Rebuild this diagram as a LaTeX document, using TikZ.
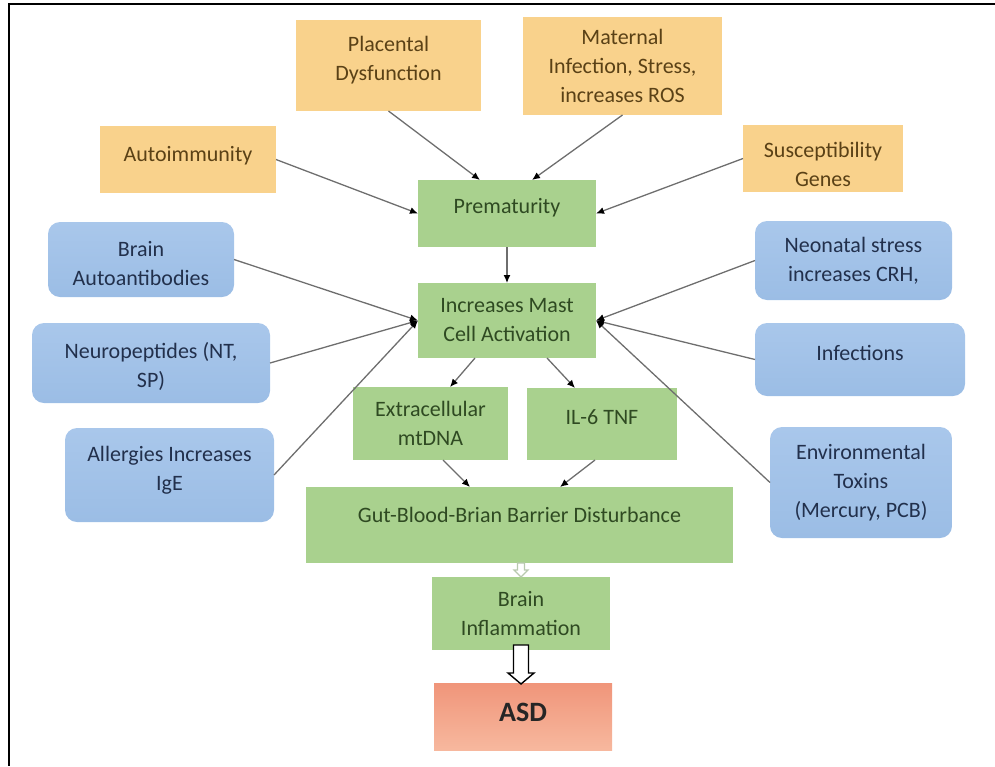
\documentclass[tikz,border=0pt]{standalone}
\usepackage{fontspec}
\setmainfont{Carlito}
\usetikzlibrary{arrows.meta,calc}
\definecolor{orfill}{HTML}{F9D28C}
\definecolor{ortext}{HTML}{5A4116}
\definecolor{grfill}{HTML}{A9D18E}
\definecolor{grtext}{HTML}{2F4A22}
\definecolor{bltop}{HTML}{A9C7EB}
\definecolor{blbot}{HTML}{9BBDE5}
\definecolor{bltext}{HTML}{22304C}
\definecolor{asdtop}{HTML}{F0957A}
\definecolor{asdbot}{HTML}{F7B89E}
\definecolor{lncol}{HTML}{6E6E6E}
\definecolor{smallar}{HTML}{B8C9AE}
\begin{document}
\begin{tikzpicture}[x=1pt,y=-1pt,
  base/.style={inner sep=0pt,outer sep=0pt,draw=none},
  obox/.style={base,fill=orfill},
  gbox/.style={base,fill=grfill},
  bbox/.style={base,rounded corners=12pt,top color=bltop,bottom color=blbot},
  abox/.style={base,top color=asdtop,bottom color=asdbot},
  txt/.style={align=center,inner sep=0pt,font=\fontsize{22}{29}\selectfont},
  otxt/.style={txt,text=ortext},
  gtxt/.style={txt,text=grtext},
  btxt/.style={txt,text=bltext},
  atxt/.style={align=center,inner sep=0pt,text=black!85,font=\fontsize{28}{32}\selectfont\bfseries},
  arr/.style={draw=lncol,line width=1.3pt,-{Latex[length=8pt,width=7pt,fill=black,color=black]}},
  hollowbig/.style={draw=black,fill=white,line width=1.4pt,line join=miter},
  hollowsmall/.style={draw=smallar,fill=white,line width=1.2pt,line join=miter}
]
\useasboundingbox (0,0) rectangle (995,766);
\draw[line width=2.2pt] (995,4) -- (9,4) -- (9,766);

% orange boxes
\node[obox,minimum width=185pt,minimum height=91pt,label={[otxt,yshift=5pt]center:{Placental\\Dysfunction}}] (pla) at (388.5,65.5) {};
\node[obox,minimum width=199pt,minimum height=98pt,label={[otxt]center:{Maternal\\Infection, Stress,\\increases ROS}}] (mat) at (622.5,66) {};
\node[obox,minimum width=176pt,minimum height=67pt,label={[otxt,yshift=4pt]center:{Autoimmunity}}] (au) at (188,159.5) {};
\node[obox,minimum width=160pt,minimum height=67pt,label={[otxt,yshift=-6pt]center:{Susceptibility\\Genes}}] (sg) at (823,158.5) {};

% green boxes
\node[gbox,minimum width=178pt,minimum height=67pt,label={[gtxt,yshift=6pt]center:{Prematurity}}] (prem) at (507,213.5) {};
\node[gbox,minimum width=178pt,minimum height=75pt,label={[gtxt]center:{Increases Mast\\Cell Activation}}] (mast) at (507,320.5) {};
\node[gbox,minimum width=155pt,minimum height=73pt,label={[gtxt]center:{Extracellular\\mtDNA}}] (ext) at (430.5,423.5) {};
\node[gbox,minimum width=150pt,minimum height=72pt,label={[gtxt,yshift=7pt]center:{IL-6 TNF}}] (il6) at (602,424) {};
\node[gbox,minimum width=427pt,minimum height=76pt,label={[gtxt,yshift=10pt]center:{Gut-Blood-Brian Barrier Disturbance}}] (gut) at (519.5,525) {};
\node[gbox,minimum width=178pt,minimum height=73pt,label={[gtxt]center:{Brain\\Inflammation}}] (bi) at (521,613.5) {};
\node[abox,minimum width=178pt,minimum height=67pt,label={[atxt,yshift=4pt]center:{ASD}}] (asd) at (523,716.5) {};

% blue boxes
\node[bbox,minimum width=186pt,minimum height=75pt,label={[btxt,yshift=-4pt]center:{Brain\\Autoantibodies}}] (ba) at (141,259.5) {};
\node[bbox,minimum width=238pt,minimum height=80pt,label={[btxt,yshift=-3pt]center:{Neuropeptides (NT,\\SP)}}] (np) at (151,363) {};
\node[bbox,minimum width=209pt,minimum height=94pt,label={[btxt,yshift=5pt]center:{Allergies Increases\\IgE}}] (al) at (169.5,475) {};
\node[bbox,minimum width=197pt,minimum height=79pt,label={[btxt]center:{Neonatal stress\\increases CRH,}}] (ns) at (853.5,260.5) {};
\node[bbox,minimum width=210pt,minimum height=73pt,label={[btxt,yshift=7pt]center:{Infections}}] (inf) at (860,359.5) {};
\node[bbox,minimum width=182pt,minimum height=111pt,label={[btxt]center:{Environmental\\Toxins\\(Mercury, PCB)}}] (env) at (861,482.5) {};

% connectors to prematurity
\draw[arr] (pla.south) -- ([xshift=-27pt]prem.north);
\draw[arr] (mat.south) -- ([xshift=25pt]prem.north);
\draw[arr] (au.east) -- (prem.west);
\draw[arr] (sg.west) -- (prem.east);
\draw[arr] (prem.south) -- (mast.north);

% connectors to mast cell activation
\draw[arr] (ba.east) -- (mast.west);
\draw[arr] (np.east) -- (mast.west);
\draw[arr] (al.east) -- (mast.west);
\draw[arr] (ns.west) -- (mast.east);
\draw[arr] (inf.west) -- (mast.east);
\draw[arr] (env.west) -- (mast.east);

% downstream
\draw[arr] ([xshift=-32pt]mast.south) -- ([xshift=19.5pt]ext.north);
\draw[arr] ([xshift=40pt]mast.south) -- ([xshift=-27pt]il6.north);
\draw[arr] ([xshift=12.5pt]ext.south) -- ([xshift=-49.5pt]gut.north);
\draw[arr] ([xshift=-7pt]il6.south) -- ([xshift=40.5pt]gut.north);

% hollow arrows
\draw[hollowsmall] ($(bi.north)+(-3.5,-14)$) -- ($(bi.north)+(-3.5,-7)$) -- ($(bi.north)+(-7,-7)$) -- (bi.north)
  -- ($(bi.north)+(7,-7)$) -- ($(bi.north)+(3.5,-7)$) -- ($(bi.north)+(3.5,-14)$) -- cycle;
\draw[hollowbig] ($(bi.south)+(-7.5,-5)$) -- ($(bi.south)+(-7.5,23)$) -- ($(bi.south)+(-13,23)$) -- ($(asd.north)+(-2,1)$)
  -- ($(bi.south)+(13,23)$) -- ($(bi.south)+(7.5,23)$) -- ($(bi.south)+(7.5,-5)$) -- cycle;
\end{tikzpicture}
\end{document}
